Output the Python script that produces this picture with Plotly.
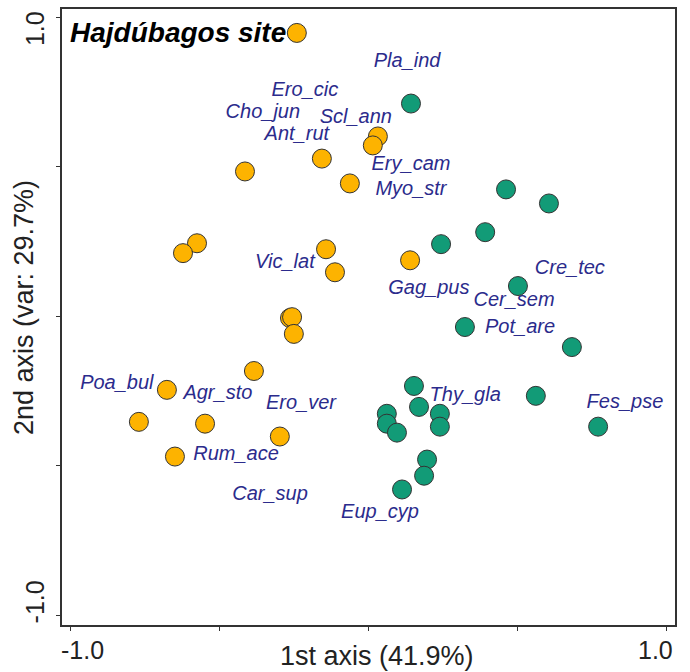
import plotly.graph_objects as go

# Orange group (site scores)
orange_x = [-0.241, 0.031, 0.014, -0.157, -0.415, -0.063, -0.576, -0.623, -0.143, -0.113,
            0.139, -0.264, -0.257, -0.251, -0.385, -0.677, -0.771, -0.549, -0.298, -0.650]
orange_y = [0.947, 0.601, 0.571, 0.527, 0.484, 0.444, 0.244, 0.211, 0.224, 0.147,
            0.187, -0.006, -0.003, -0.059, -0.183, -0.246, -0.353, -0.359, -0.402, -0.469]

# Green group (site scores)
green_x = [0.142, 0.461, 0.605, 0.243, 0.391, 0.501, 0.323, 0.682, 0.152, 0.561,
           0.169, 0.061, 0.061, 0.095, 0.239, 0.239, 0.770, 0.196, 0.186, 0.112]
green_y = [0.711, 0.424, 0.377, 0.241, 0.281, 0.101, -0.036, -0.103, -0.233, -0.266,
           -0.303, -0.326, -0.359, -0.389, -0.326, -0.369, -0.369, -0.479, -0.533, -0.579]

# Species labels
species = ["Ero_cic", "Cho_jun", "Scl_ann", "Ant_rut", "Pla_ind", "Ery_cam", "Myo_str",
           "Vic_lat", "Gag_pus", "Cre_tec", "Cer_sem", "Pot_are", "Thy_gla", "Fes_pse",
           "Eup_cyp", "Poa_bul", "Agr_sto", "Ero_ver", "Rum_ace", "Car_sup"]
species_x = [-0.214, -0.355, -0.043, -0.241, 0.129, 0.142, 0.142,
             -0.281, 0.202, 0.675, 0.488, 0.508, 0.324, 0.860,
             0.038, -0.845, -0.506, -0.227, -0.445, -0.331]
species_y = [0.754, 0.681, 0.664, 0.607, 0.851, 0.504, 0.421,
             0.177, 0.091, 0.157, 0.051, -0.039, -0.266, -0.289,
             -0.659, -0.226, -0.259, -0.293, -0.463, -0.599]

tick_vals = [-1.0, -0.5, 0.0, 0.5, 1.0]
label_vals = [-1.0, 1.0]
label_text = ["-1.0", "1.0"]

FONT = "Liberation Sans, Arial, sans-serif"
TXT = "#222222"

fig = go.Figure()
fig.add_trace(go.Scatter(
    x=species_x, y=species_y, text=species, mode="text",
    textfont=dict(family=FONT, size=20, color="#2b2b8c", style="italic"),
    hoverinfo="skip", showlegend=False))
fig.add_trace(go.Scatter(
    x=orange_x, y=orange_y, mode="markers",
    marker=dict(size=19, color="#FDB300", line=dict(color="#333333", width=1)),
    showlegend=False))
fig.add_trace(go.Scatter(
    x=green_x, y=green_y, mode="markers",
    marker=dict(size=19, color="#129B77", line=dict(color="#333333", width=1)),
    showlegend=False))

axis_common = dict(
    showline=True, mirror=True, linecolor="#333333", linewidth=1.5,
    showgrid=False, zeroline=False, ticks="outside", ticklen=4,
    tickcolor="#333333", tickwidth=1, tickvals=tick_vals, showticklabels=False,
)

annotations = [
    dict(text="<b><i>Hajdúbagos site</i></b>", xref="paper", yref="paper",
         x=(68 - 62) / 613, y=(625 - 31) / 618, xanchor="left", yanchor="middle",
         showarrow=False, font=dict(family=FONT, size=28, color="black")),
    dict(text="1st axis (41.9%)", xref="paper", yref="paper",
         x=(377 - 62) / 613, y=-(656 - 625) / 618, xanchor="center", yanchor="middle",
         showarrow=False, font=dict(family=FONT, size=27, color=TXT)),
    dict(text="2nd axis (var: 29.7%)", xref="paper", yref="paper",
         x=-(62 - 24) / 613, y=(625 - 307) / 618, xanchor="center", yanchor="middle",
         textangle=-90, showarrow=False, font=dict(family=FONT, size=27, color=TXT)),
]
# tick labels (pulled inward like the original)
for v, t in zip(label_vals, label_text):
    annotations.append(dict(
        text=t, xref="x", yref="paper", x=v, y=-(650 - 625) / 618,
        xanchor="center", yanchor="middle", xshift=12 if v < 0 else -11,
        showarrow=False, font=dict(family=FONT, size=25, color=TXT)))
    annotations.append(dict(
        text=t, xref="paper", yref="y", x=-(62 - 35) / 613, y=v,
        xanchor="center", yanchor="middle", yshift=13 if v < 0 else -12,
        textangle=-90, showarrow=False, font=dict(family=FONT, size=25, color=TXT)))

fig.update_layout(
    width=690, height=672,
    margin=dict(l=62, r=15, t=7, b=47),
    paper_bgcolor="white", plot_bgcolor="white",
    xaxis=dict(range=[-1.029, 1.028], **axis_common),
    yaxis=dict(range=[-1.032, 1.027], **axis_common),
    annotations=annotations,
)

fig.write_html("out.html")
